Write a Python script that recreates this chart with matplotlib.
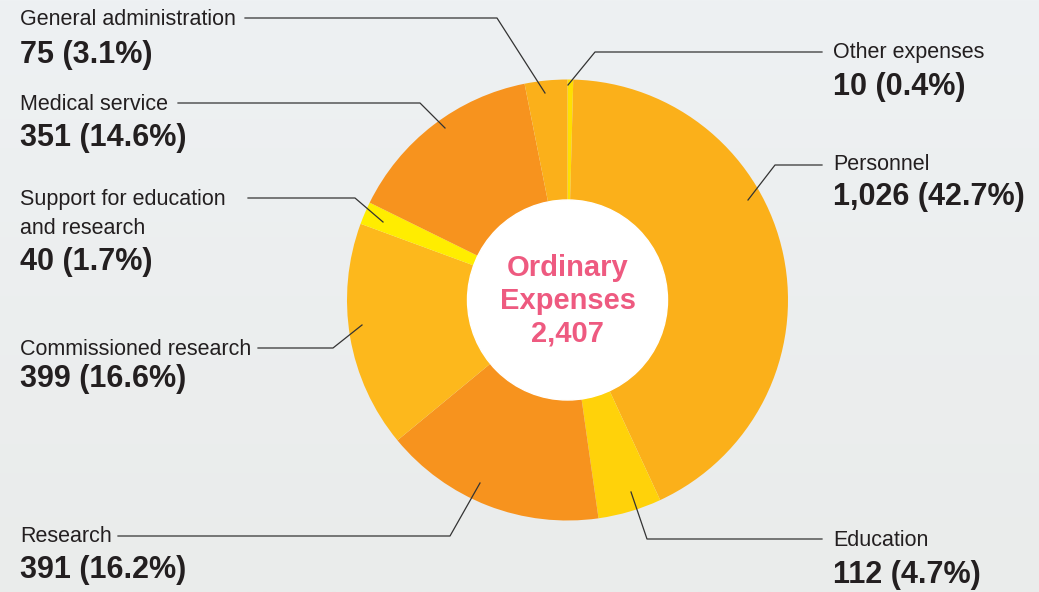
import matplotlib.pyplot as plt
import numpy as np
from matplotlib.patches import Circle

# values (order clockwise from 12 o'clock)
categories = ["Other expenses", "Personnel", "Education", "Research",
              "Commissioned research", "Support for education\nand research",
              "Medical service", "General administration"]
values = [10, 1026, 112, 391, 399, 40, 351, 75]
percents = [0.4, 42.7, 4.7, 16.2, 16.6, 1.7, 14.6, 3.1]
total = 2407
colors = ["#FFDF00", "#FBB01A", "#FFD20A", "#F7931E",
          "#FDB81C", "#FFED00", "#F7931E", "#FBB01A"]

W, H = 1039, 592
CX, CY = 567.5, 300
R_OUT, R_IN = 220.5, 100
TEXT = "#231F20"
PINK = "#EE5A80"
FONT = 'Liberation Sans'


def py(y):
    # pixel row -> data y
    return H - y


fig = plt.figure(figsize=(W / 100, H / 100), dpi=100)
ax = fig.add_axes([0, 0, 1, 1])

# faded background
grad = np.linspace(0, 1, 256).reshape(-1, 1)
bg = np.zeros((256, 1, 3))
top = np.array([0xEE, 0xF1, 0xF3]) / 255
bot = np.array([0xEA, 0xEC, 0xEB]) / 255
bg[:, 0, :] = top * (1 - grad) + bot * grad
ax.imshow(bg, extent=(0, W, 0, H), aspect='auto', zorder=0)

ax.pie(values, colors=colors, startangle=90, counterclock=False,
       radius=R_OUT, center=(CX, py(CY)),
       wedgeprops=dict(linewidth=0), frame=True)
ax.add_patch(Circle((CX, py(CY)), R_IN, color="white", zorder=5))

for ln, yy in [("Ordinary", 268), ("Expenses", 301), (f"{total:,}", 334)]:
    ax.text(CX, py(yy), ln, ha='center', va='center', color=PINK,
            fontsize=21, fontweight='bold', family=FONT, zorder=6)

# label layout: (text x, name baselines, number baseline, leader line points in pixels)
layout = {
    "Other expenses": (833, [58], 95, [(822, 52), (595, 52), (568, 85)]),
    "Personnel": (833, [170], 205, [(822, 165), (775, 165), (748, 200)]),
    "Education": (833, [546], 583, [(822, 539), (647, 539), (631, 492)]),
    "Research": (20, [542], 578, [(118, 536), (450, 536), (480, 483)]),
    "Commissioned research": (20, [355], 387, [(258, 348), (333, 348), (362, 325)]),
    "Support for education\nand research": (20, [205, 234], 270, [(248, 198), (355, 198), (383, 222)]),
    "Medical service": (20, [110], 146, [(178, 103), (420, 103), (445, 128)]),
    "General administration": (20, [25], 63, [(245, 18), (497, 18), (545, 93)]),
}

for cat, val, pct in zip(categories, values, percents):
    tx, name_ys, vy, pts = layout[cat]
    for ln, ny in zip(cat.split("\n"), name_ys):
        ax.text(tx, py(ny), ln, ha='left', va='baseline', color=TEXT,
                fontsize=15.5, family=FONT, zorder=6)
    ax.text(tx, py(vy), f"{val:,} ({pct}%)", ha='left', va='baseline', color=TEXT,
            fontsize=22, fontweight='bold', family=FONT, zorder=6)
    xs = [p[0] for p in pts]
    ys = [py(p[1]) for p in pts]
    ax.plot(xs, ys, color="#333333", lw=0.9, zorder=7)

ax.set_xlim(0, W)
ax.set_ylim(0, H)
ax.set_aspect('auto')
ax.axis('off')

fig.savefig("out.png", dpi=100)
